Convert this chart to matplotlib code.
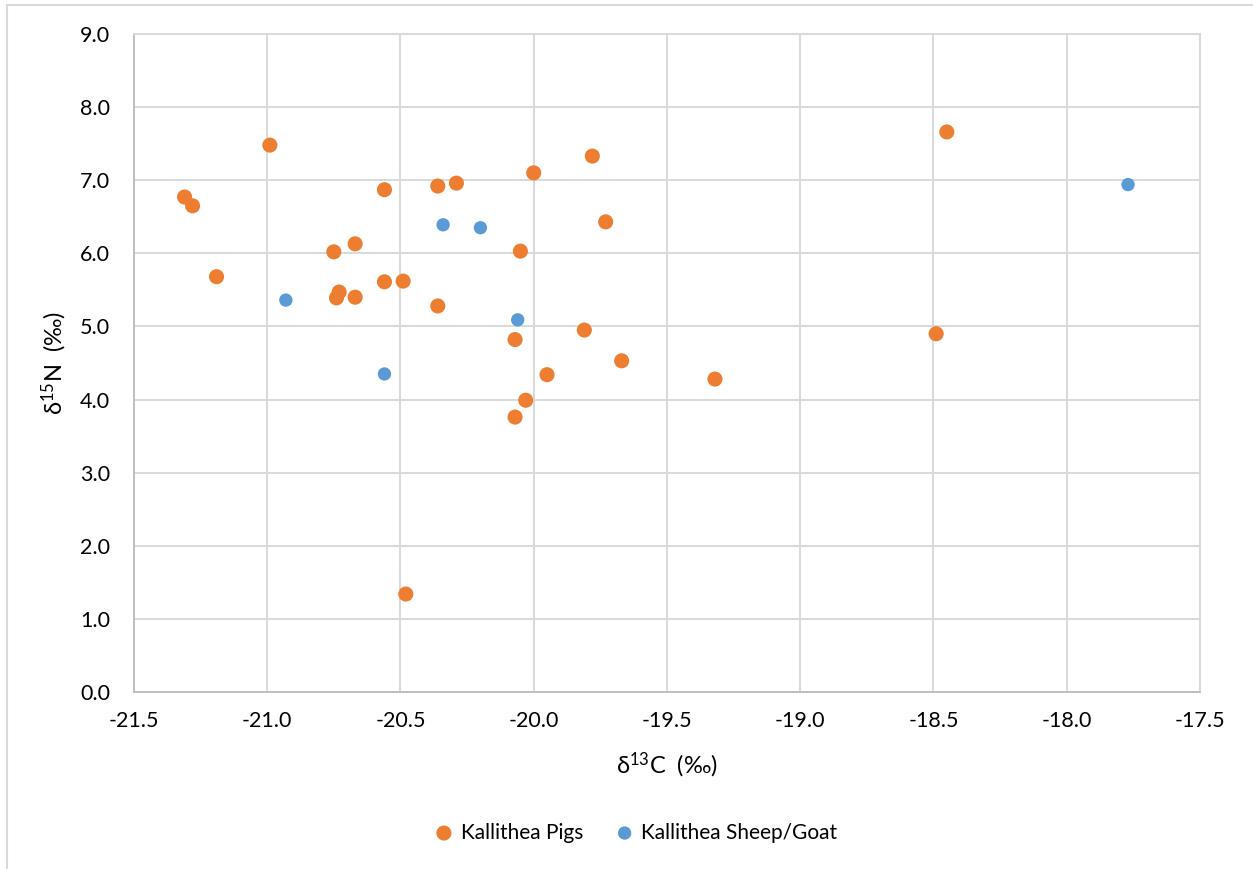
import matplotlib.pyplot as plt
from matplotlib.patches import Rectangle

plt.rcParams['font.family'] = ['Lato', 'DejaVu Sans']
plt.rcParams['mathtext.fontset'] = 'custom'
plt.rcParams['mathtext.rm'] = 'Lato'
plt.rcParams['mathtext.default'] = 'regular'

# Kallithea pigs
pig_c = [-21.31, -21.28, -21.19, -20.99, -20.75, -20.67, -20.74, -20.73, -20.67,
         -20.56, -20.56, -20.49, -20.36, -20.29, -20.36, -20.48, -20.00, -20.05,
         -20.07, -20.07, -20.03, -19.95, -19.78, -19.73, -19.81, -19.67, -19.32,
         -18.45, -18.49]
pig_n = [6.77, 6.65, 5.68, 7.48, 6.02, 6.13, 5.39, 5.47, 5.40,
         6.87, 5.61, 5.62, 6.92, 6.96, 5.28, 1.34, 7.10, 6.03,
         4.82, 3.76, 3.99, 4.34, 7.33, 6.43, 4.95, 4.53, 4.28,
         7.66, 4.90]

# Kallithea sheep/goat
sg_c = [-20.93, -20.56, -20.34, -20.20, -20.06, -17.77]
sg_n = [5.36, 4.35, 6.39, 6.35, 5.09, 6.94]

xticks = [-21.5, -21.0, -20.5, -20.0, -19.5, -19.0, -18.5, -18.0, -17.5]
yticks = [0, 1, 2, 3, 4, 5, 6, 7, 8, 9]

fig = plt.figure(figsize=(12.53, 8.69), dpi=100)
ax = fig.add_axes([0.1069, 0.2037, 0.8508, 0.7572])

ax.scatter(pig_c, pig_n, s=118, color='#ED7D31', edgecolors='none',
           label='Kallithea Pigs', zorder=3)
ax.scatter(sg_c, sg_n, s=92, color='#5B9BD5', edgecolors='none',
           label='Kallithea Sheep/Goat', zorder=3)

ax.set_xlim(-21.5, -17.5)
ax.set_ylim(0, 9)
ax.set_xticks(xticks)
ax.set_yticks(yticks)
ax.set_xticklabels([f'{v:.1f}' for v in xticks])
ax.set_yticklabels([f'{v:.1f}' for v in yticks])
ax.tick_params(length=0, labelsize=15.5, colors='#000000', pad=14)
ax.tick_params(axis='y', pad=17)
ax.grid(True, color='#D9D9D9', linewidth=1.4)
ax.set_axisbelow(True)
for sp in ax.spines.values():
    sp.set_color('#D9D9D9')
    sp.set_linewidth(1.4)
ax.spines['left'].set_color('#BFBFBF')
ax.spines['bottom'].set_color('#BFBFBF')

ax.set_xlabel('δ$^{13}$C  (‰)', fontsize=17, labelpad=14)
ax.set_ylabel('δ$^{15}$N  (‰)', fontsize=17, labelpad=8)

fig.legend(loc='center', bbox_to_anchor=(0.503, 0.042), ncol=2, frameon=False,
           fontsize=15, handletextpad=-0.2, columnspacing=1.0, markerscale=1.0)

# chart border
fig.patches.append(Rectangle((7 / 1253, -0.05), 1.2, 1.05 - 5 / 869,
                             transform=fig.transFigure, fill=False,
                             edgecolor='#D9D9D9', linewidth=1.5))

fig.savefig('out.png', dpi=100)
